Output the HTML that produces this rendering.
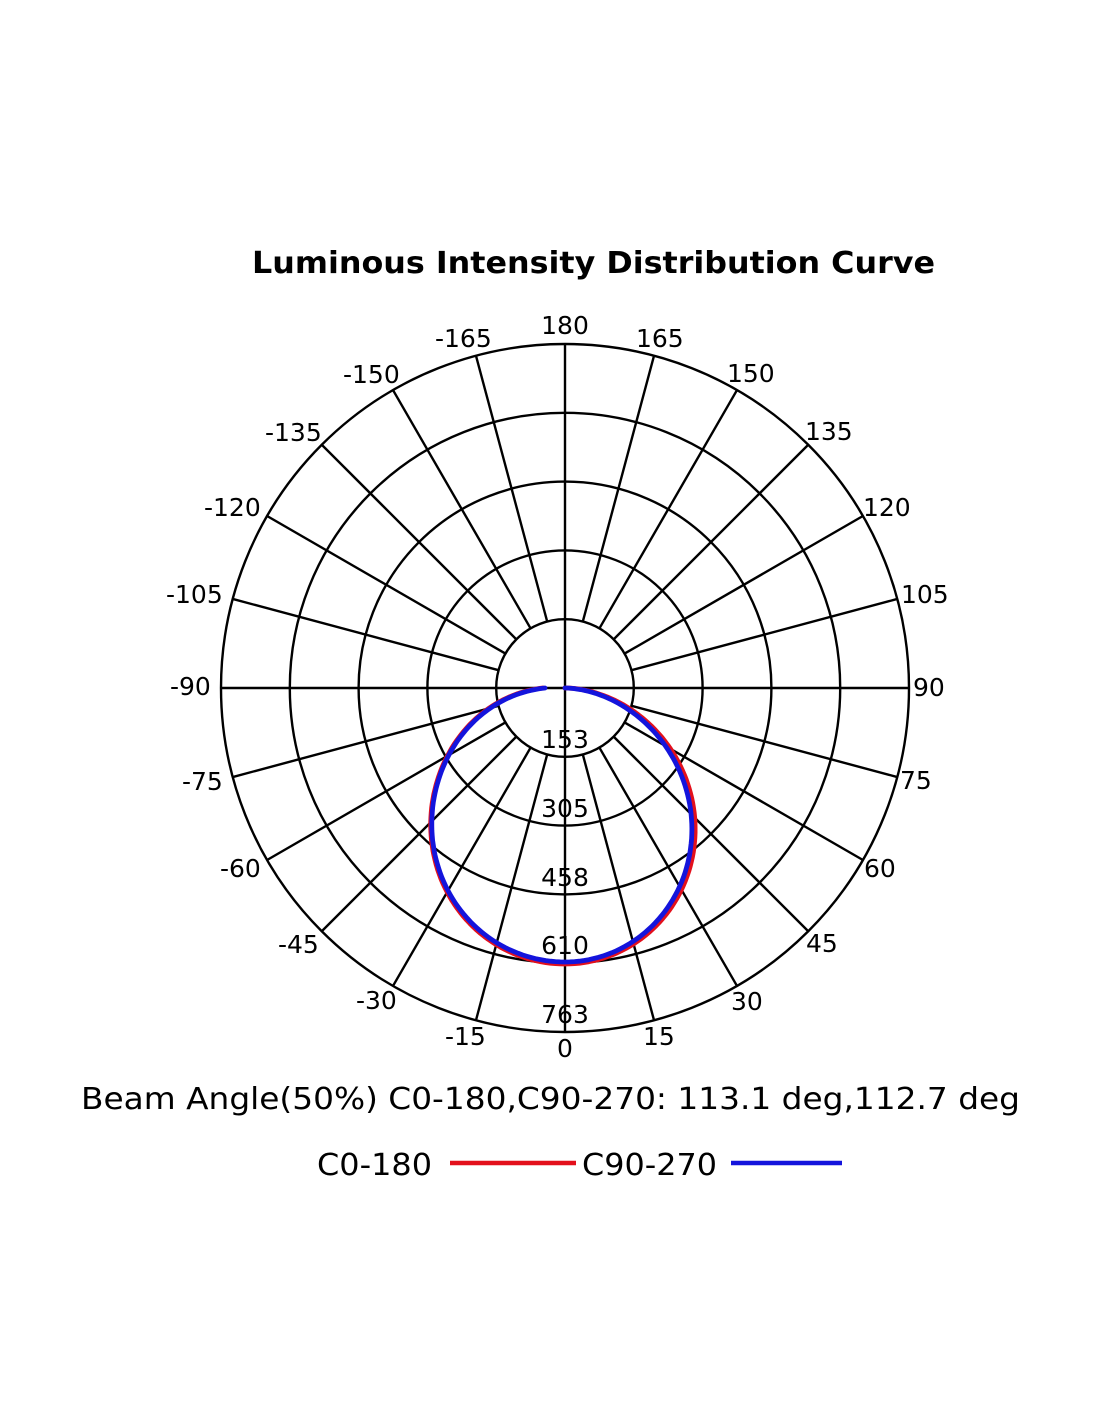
<!DOCTYPE html>
<html>
<head>
<meta charset="utf-8">
<style>
  html, body { margin: 0; padding: 0; background: #ffffff; }
  svg { display: block; }
  .t { font-family: "DejaVu Sans", "Liberation Sans", sans-serif; font-size: 25px; fill: #000; }
  .m { text-anchor: middle; }
</style>
</head>
<body>
<svg width="1100" height="1422" viewBox="0 0 1100 1422" xmlns="http://www.w3.org/2000/svg">
  <rect width="1100" height="1422" fill="#fff"/>

  <text x="252" y="273" textLength="683" lengthAdjust="spacingAndGlyphs" style="font-family:'DejaVu Sans','Liberation Sans',sans-serif;font-size:30px;font-weight:bold;fill:#000;">Luminous Intensity Distribution Curve</text>

  <g fill="none" stroke="#000" stroke-width="2.4">
    <circle cx="565" cy="688" r="68.8"/>
    <circle cx="565" cy="688" r="137.6"/>
    <circle cx="565" cy="688" r="206.4"/>
    <circle cx="565" cy="688" r="275.2"/>
    <circle cx="565" cy="688" r="344"/>
    <line x1="565" y1="344" x2="565" y2="1032"/>
    <line x1="221" y1="688" x2="909" y2="688"/>
    <g transform="translate(565 688)">
      <line x1="0" y1="68.8" x2="0" y2="344" transform="rotate(15)"/>
      <line x1="0" y1="68.8" x2="0" y2="344" transform="rotate(30)"/>
      <line x1="0" y1="68.8" x2="0" y2="344" transform="rotate(45)"/>
      <line x1="0" y1="68.8" x2="0" y2="344" transform="rotate(60)"/>
      <line x1="0" y1="68.8" x2="0" y2="344" transform="rotate(75)"/>
      <line x1="0" y1="68.8" x2="0" y2="344" transform="rotate(105)"/>
      <line x1="0" y1="68.8" x2="0" y2="344" transform="rotate(120)"/>
      <line x1="0" y1="68.8" x2="0" y2="344" transform="rotate(135)"/>
      <line x1="0" y1="68.8" x2="0" y2="344" transform="rotate(150)"/>
      <line x1="0" y1="68.8" x2="0" y2="344" transform="rotate(165)"/>
      <line x1="0" y1="68.8" x2="0" y2="344" transform="rotate(195)"/>
      <line x1="0" y1="68.8" x2="0" y2="344" transform="rotate(210)"/>
      <line x1="0" y1="68.8" x2="0" y2="344" transform="rotate(225)"/>
      <line x1="0" y1="68.8" x2="0" y2="344" transform="rotate(240)"/>
      <line x1="0" y1="68.8" x2="0" y2="344" transform="rotate(255)"/>
      <line x1="0" y1="68.8" x2="0" y2="344" transform="rotate(285)"/>
      <line x1="0" y1="68.8" x2="0" y2="344" transform="rotate(300)"/>
      <line x1="0" y1="68.8" x2="0" y2="344" transform="rotate(315)"/>
      <line x1="0" y1="68.8" x2="0" y2="344" transform="rotate(330)"/>
      <line x1="0" y1="68.8" x2="0" y2="344" transform="rotate(345)"/>
    </g>
  </g>

  <!-- angle labels -->
  <text class="t m" x="565" y="334">180</text>
  <text class="t" x="636" y="347">165</text>
  <text class="t" x="727" y="382">150</text>
  <text class="t" x="805" y="440">135</text>
  <text class="t" x="863" y="516">120</text>
  <text class="t" x="901" y="603">105</text>
  <text class="t" x="913" y="696">90</text>
  <text class="t" x="900" y="789">75</text>
  <text class="t" x="864" y="877">60</text>
  <text class="t" x="806" y="952">45</text>
  <text class="t" x="731" y="1010">30</text>
  <text class="t" x="643" y="1045">15</text>
  <text class="t m" x="565" y="1057">0</text>
  <text class="t" x="445" y="1045">-15</text>
  <text class="t" x="356" y="1009">-30</text>
  <text class="t" x="278" y="953">-45</text>
  <text class="t" x="220" y="877">-60</text>
  <text class="t" x="182" y="790">-75</text>
  <text class="t" x="170" y="695">-90</text>
  <text class="t" x="166" y="603">-105</text>
  <text class="t" x="204" y="516">-120</text>
  <text class="t" x="265" y="441">-135</text>
  <text class="t" x="343" y="383">-150</text>
  <text class="t" x="435" y="347">-165</text>

  <!-- radial labels -->
  <text class="t m" x="565" y="748">153</text>
  <text class="t m" x="565" y="817">305</text>
  <text class="t m" x="565" y="886">458</text>
  <text class="t m" x="565" y="954">610</text>
  <text class="t m" x="565" y="1023">763</text>

  <!-- curves -->
  <path id="red" fill="none" stroke="#e3101c" stroke-width="4.8" stroke-linejoin="round" stroke-linecap="round"
    d="M565,688 L580,689.4 L598.8,694 L637.5,714.5 L670.5,748.9 L691,793.7 L695.5,843.5 L682.5,891 L653.5,930 L612.5,955.5 L565,964 L518.2,954.3 L477.3,929.5 L447.5,891.5 L432.5,845.5 L433.5,798 L448.5,755 L474,720.5 L508,697.5 L526,690.8 L543,688"/>
  <path id="blue" fill="none" stroke="#1414dc" stroke-width="4.8" stroke-linejoin="round" stroke-linecap="round"
    d="M565,688 L579.6,689.3 L598,693.8 L636,713.9 L668.3,747.6 L688.5,791.6 L692.9,840.4 L680.3,887.7 L652,927 L611.7,952.9 L565,962 L518.2,953.3 L477.5,928.5 L448,890.6 L433.3,845 L434.1,797.9 L448.9,755.1 L474.4,721 L508.3,698 L527,691.3 L545,688"/>

  <text x="81" y="1109" textLength="939" lengthAdjust="spacingAndGlyphs" style="font-family:'DejaVu Sans','Liberation Sans',sans-serif;font-size:30px;fill:#000;">Beam Angle(50%) C0-180,C90-270: 113.1 deg,112.7 deg</text>

  <text x="317" y="1175" textLength="115" lengthAdjust="spacingAndGlyphs" style="font-family:'DejaVu Sans','Liberation Sans',sans-serif;font-size:30px;fill:#000;">C0-180</text>
  <line x1="450" y1="1163" x2="576" y2="1163" stroke="#e3101c" stroke-width="4.5"/>
  <text x="582" y="1175" textLength="135" lengthAdjust="spacingAndGlyphs" style="font-family:'DejaVu Sans','Liberation Sans',sans-serif;font-size:30px;fill:#000;">C90-270</text>
  <line x1="731" y1="1163" x2="842" y2="1163" stroke="#1414dc" stroke-width="4.5"/>
</svg>
<script>
(function(){
  function build(R, nR, nL, off){
    var cx=565, cy=688, pts=[];
    for (var a=90; a>=-90; a-=1){
      var t=a*Math.PI/180, c=Math.cos(t), s=Math.sin(t);
      var r;
      if (a>=0){ r = R*Math.pow(Math.max(c,0), nR); }
      else { r = R*Math.pow(Math.max(c,0), nL) + off*Math.pow(Math.abs(s),8); }
      pts.push((cx + r*s).toFixed(1)+','+(cy + r*c).toFixed(1));
    }
    return 'M'+pts.join(' L');
  }
  try{
    document.getElementById('red').setAttribute('d', build(276, 1.18, 1.1, 22));
    document.getElementById('blue').setAttribute('d', build(274, 1.24, 1.1, 20));
  }catch(e){}
})();
</script>
</body>
</html>
